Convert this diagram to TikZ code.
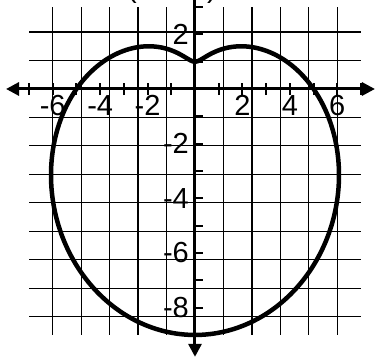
\documentclass[tikz,border=0pt]{standalone}
\usepackage{fontspec}
\setmainfont{Liberation Sans}
\usetikzlibrary{arrows.meta}
\tikzset{
  gridline/.style={line width=1.2pt, black},
  axisline/.style={line width=3pt},
  tip/.style={-{Triangle[length=13pt, width=13pt]}},
  tickmark/.style={line width=2pt},
  curveline/.style={line width=4.5pt},
  lbl/.style={font=\fontsize{29}{29}\selectfont, inner sep=0pt}
}
\begin{document}
\begin{tikzpicture}[x=23.71pt, y=27.33pt]
  \useasboundingbox (-8.224,-9.843) rectangle (7.676,3.256);
  \draw[gridline] (-7,-9) grid (7,3);
  \coordinate (xl) at (-7.97,0);
  \coordinate (xr) at (7.59,0);
  \coordinate (yt) at (0,3.6);
  \coordinate (yb) at (0,-9.8);
  \draw[axisline, {Triangle[length=13pt, width=13pt]}-{Triangle[length=13pt, width=13pt]}] (xl) -- (xr);
  \draw[axisline, tip] (yt) -- (yb);
  \foreach \i in {-7,...,7} \draw[tickmark] (\i,-0.22) -- (\i,0.22);
  \foreach \j in {-9,...,3} \draw[tickmark] (0,\j) -- (0.34,\j);
  \foreach \i in {-6,-4,-2,2,4,6} \node[lbl, anchor=north] (xlab\i) at (\i,-0.22) {\i};
  \foreach \j in {2,-2,-4,-6,-8} \node[lbl, anchor=east] (ylab\j) at (-0.25,\j) {\j};
  \draw[curveline] plot[domain=0:360, samples=240, smooth cycle]
    ({(5-4*sin(\x))*cos(\x)}, {(5-4*sin(\x))*sin(\x)});
  \node[lbl, anchor=south] (lparen) at (-2.66,3.11) {(};
  \node[lbl, anchor=south] (rparen) at (0.72,3.11) {)};
\end{tikzpicture}
\end{document}
